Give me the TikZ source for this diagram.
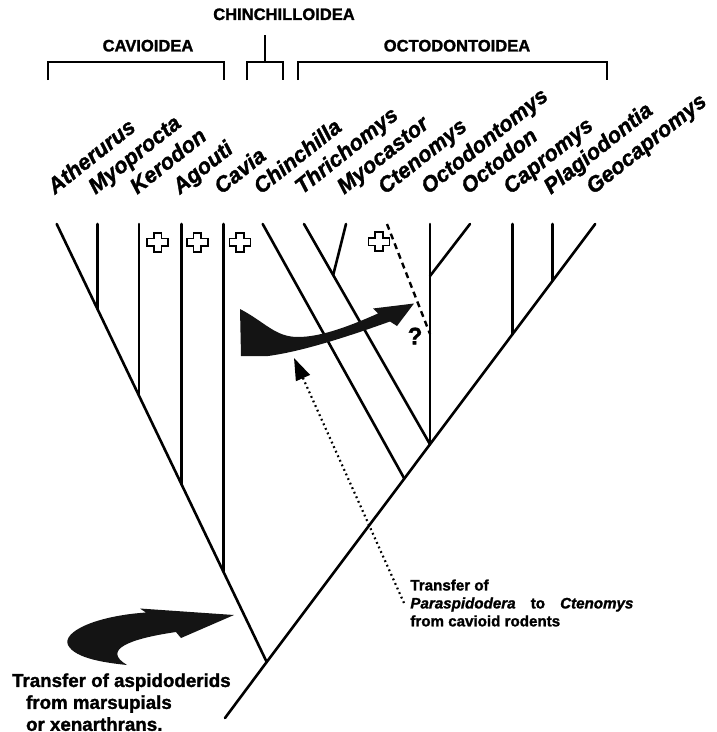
\documentclass[tikz,border=0pt]{standalone}
\usepackage{fontspec}
\setmainfont{Liberation Sans}[BoldFeatures={FakeBold=1.5},BoldItalicFeatures={FakeBold=1.5}]
\usetikzlibrary{arrows.meta}

\begin{document}
\begin{tikzpicture}[
  x=0.5bp,y=-0.5bp,
  branch/.style={line width=1.3bp,line cap=round},
  bracket/.style={line width=0.9bp},
  doubtful/.style={line width=1.2bp,dash pattern=on 3bp off 2.2bp},
  transfer/.style={line width=1.1bp,dash pattern=on 0.9bp off 1.6bp,-{Triangle[length=11bp,width=7.5bp]}},
  swoosh/.style={fill=black!92},
  taxon/.style={rotate=38.5,anchor=base west,inner sep=0,font=\fontsize{11}{13}\selectfont\bfseries\itshape},
  group/.style={inner sep=0,font=\fontsize{8.3}{10}\selectfont\bfseries},
  note/.style={inner sep=0,align=left,font=\fontsize{9.4}{11}\selectfont\bfseries},
  smallnote/.style={inner sep=3bp,align=left,font=\fontsize{7.6}{9}\selectfont\bfseries},
  query/.style={inner sep=0,font=\fontsize{12}{14}\selectfont\bfseries},
  extinct/.pic={\draw[line width=0.8bp,fill=white] (-3.8,-9.5) -- (3.8,-9.5) -- (3.8,-3.8) -- (10.5,-3.8) -- (10.5,3.8) -- (3.8,3.8) -- (3.8,9.5) -- (-3.8,9.5) -- (-3.8,3.8) -- (-10.5,3.8) -- (-10.5,-3.8) -- (-3.8,-3.8) -- cycle;}
]
  \useasboundingbox (0,0) rectangle (717,732);

  \node[group] (cavioidea) at (148,45.7) {CAVIOIDEA};
  \node[group] (chinchilloidea) at (284,14.3) {CHINCHILLOIDEA};
  \node[group] (octodontoidea) at (457,45.7) {OCTODONTOIDEA};

  \coordinate (cavioidea-from) at (47.7,80);
  \coordinate (cavioidea-to) at (224,80);
  \coordinate (chinchilloidea-from) at (247.3,80);
  \coordinate (chinchilloidea-to) at (282.7,80);
  \coordinate (chinchilloidea-stem) at (265,62.3);
  \coordinate (octodontoidea-from) at (298.3,80);
  \coordinate (octodontoidea-to) at (606.7,80);

  \draw[bracket] (cavioidea-from) -- ++(0,-17.7) -| (cavioidea-to);
  \draw[bracket] (chinchilloidea-from) -- ++(0,-17.7) -| (chinchilloidea-to);
  \draw[bracket] (chinchilloidea-stem) -- ++(0,-27);
  \draw[bracket] (octodontoidea-from) -- ++(0,-17.7) -| (octodontoidea-to);

  \foreach \taxon/\x in {Atherurus/56.7,Myoprocta/97.3,Kerodon/139,Agouti/181.7,Cavia/223.3,Chinchilla/262.7,Thrichomys/304,Myocastor/346,Ctenomys/387,Octodontomys/430,Octodon/470,Capromys/512.3,Plagiodontia/552.7,Geocapromys/595.2}{
    \coordinate (tip-\taxon) at (\x,224);
    \node[taxon] (label-\taxon) at (\x-2,195) {\taxon};
  }

  \coordinate (root) at (266.7,662);
  \coordinate (stem) at (225,718);
  \coordinate (fork-Myoprocta) at (97.3,308.7);
  \coordinate (fork-Kerodon) at (139,395.7);
  \coordinate (fork-Agouti) at (181.7,484.7);
  \coordinate (fork-Cavia) at (223.3,571.5);
  \coordinate (fork-Chinchilla) at (404.3,478.6);
  \coordinate (fork-Octodontomys) at (430,444.3);
  \coordinate (fork-Myocastor) at (333.2,275);
  \coordinate (fork-Octodon) at (430,276);
  \coordinate (fork-Ctenomys) at (430,334);
  \coordinate (fork-Capromys) at (512.3,334.5);
  \coordinate (fork-Plagiodontia) at (552.7,280.7);

  \draw[branch] (tip-Atherurus) -- (fork-Myoprocta) -- (fork-Kerodon) -- (fork-Agouti) -- (fork-Cavia) -- (root);
  \draw[branch] (stem) -- (root) -- (fork-Chinchilla) -- (fork-Octodontomys) -- (fork-Capromys) -- (fork-Plagiodontia) -- (tip-Geocapromys);
  \foreach \taxon in {Myoprocta,Kerodon,Agouti,Cavia,Chinchilla,Myocastor,Octodontomys,Octodon,Capromys,Plagiodontia}
    \draw[branch] (tip-\taxon) -- (fork-\taxon);
  \draw[branch] (tip-Thrichomys) -- (fork-Octodontomys);
  \draw[doubtful] (tip-Ctenomys) -- (fork-Ctenomys);

  \foreach \x/\y in {157.7/242.3,197.3/242.3,240/242.3,379/241.7}
    \pic at (\x,\y) {extinct};

  \node[query] (ctenomys-query) at (415,336) {?};

  \fill[swoosh] (240,309) .. controls (265,322) and (275,337) .. (298,337) .. controls (322,337) and (352,325) .. (378,313.5) -- (373,308.5) -- (414,303.5) -- (397,326) -- (390,321.5) .. controls (352,335) and (305,351) .. (268,356) -- (241,356) -- cycle;

  \fill[swoosh] (127,665) .. controls (102,650) and (128,639) .. (176,632) -- (181,638) -- (234,615) -- (140,608.5) -- (146,612.5) .. controls (95,616) and (62,632) .. (68,645) .. controls (75,659) and (108,663) .. (127,665) -- cycle;

  \node[note,anchor=north west] (aspidoderid-note) at (11.7,673) {Transfer of aspidoderids\\\hspace*{7bp}from marsupials\\\hspace*{7bp}or xenarthrans.};

  \node[smallnote,anchor=west] (paraspidodera-note) at (404,603) {Transfer of\\\textit{Paraspidodera}\hspace{1em}to\hspace{1em}\textit{Ctenomys}\\from cavioid rodents};
  \coordinate (transfer-target) at (294,358);
  \draw[transfer] (paraspidodera-note.west) -- (transfer-target);
\end{tikzpicture}
\end{document}
